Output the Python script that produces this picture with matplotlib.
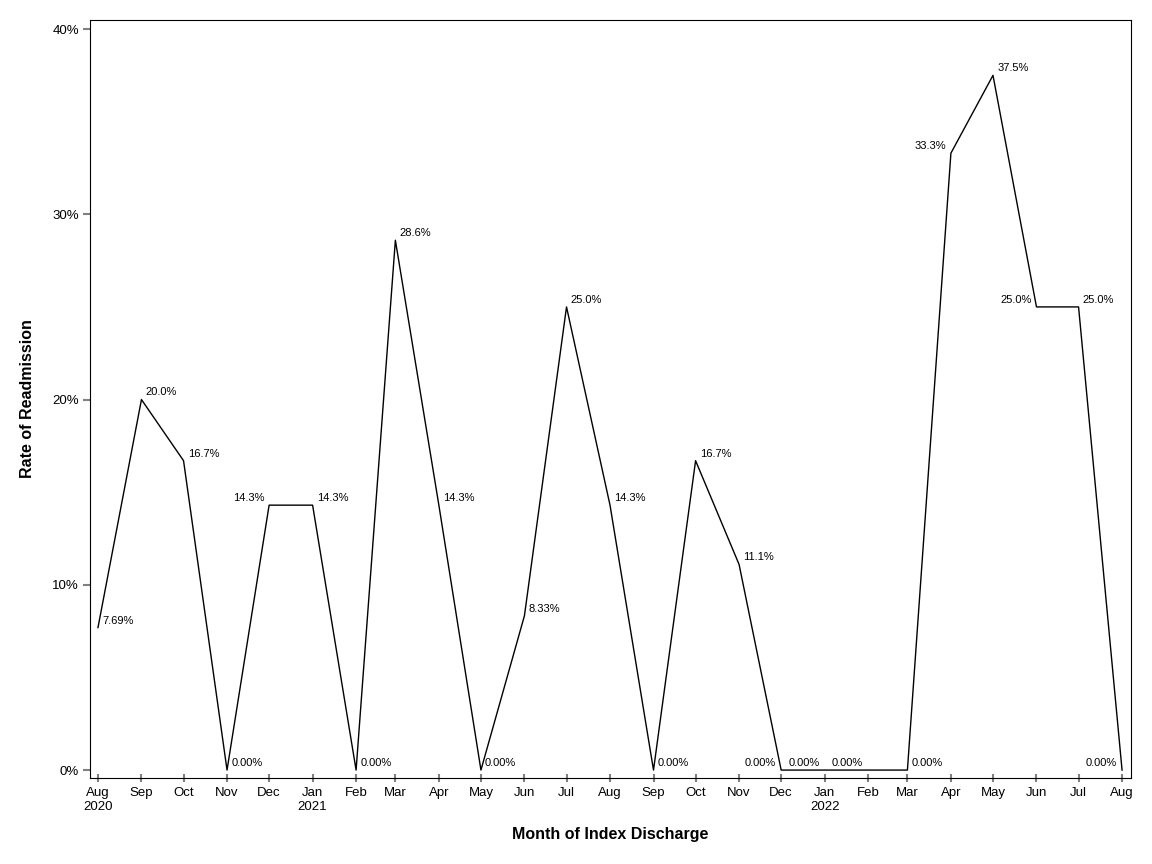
import matplotlib
matplotlib.use("Agg")
import matplotlib.pyplot as plt
import pandas as pd

plt.rcParams['font.family'] = ['Liberation Sans', 'DejaVu Sans']

# monthly readmission rates (%), Aug 2020 .. Aug 2022
months = pd.date_range("2020-08-01", "2022-08-01", freq="MS")
rates = [7.69, 20.0, 16.7, 0.0, 14.3, 14.3, 0.0, 28.6, 14.3, 0.0, 8.33, 25.0, 14.3,
         0.0, 16.7, 11.1, 0.0, 0.0, 0.0, 0.0, 33.3, 37.5, 25.0, 25.0, 0.0]
labels = ["7.69%", "20.0%", "16.7%", "0.00%", "14.3%", "14.3%", "0.00%", "28.6%", "14.3%",
          "0.00%", "8.33%", "25.0%", "14.3%", "0.00%", "16.7%", "11.1%", "0.00%", "0.00%",
          "0.00%", "0.00%", "33.3%", "37.5%", "25.0%", "25.0%", "0.00%"]
# which labels sit to the left of their point
left_side = [4, 16, 17, 18, 20, 22, 24]

fig = plt.figure(figsize=(11.52, 8.64), dpi=100)
ax = fig.add_axes([0.0781, 0.0995, 0.9037, 0.8774])

ax.plot(months, rates, color='black', lw=1)

for i in range(len(months)):
    if i in left_side:
        ax.annotate(labels[i], (months[i], rates[i]), xytext=(-3.5, 1.5), textcoords='offset points',
                    ha='right', va='bottom', fontsize=8)
    else:
        ax.annotate(labels[i], (months[i], rates[i]), xytext=(3, 1.5), textcoords='offset points',
                    ha='left', va='bottom', fontsize=8)

ax.set_xlim(months[0] - pd.Timedelta(days=5.7), months[-1] + pd.Timedelta(days=6.4))
ax.set_ylim(-0.43, 40.49)
ax.set_yticks([0, 10, 20, 30, 40])
ax.set_yticklabels(["0%", "10%", "20%", "30%", "40%"])

ticklabels = []
for d in months:
    s = d.strftime("%b")
    if d == months[0] or d.month == 1:
        s += "\n" + str(d.year)
    ticklabels.append(s)
ax.set_xticks(months)
ax.set_xticklabels(ticklabels, fontsize=9.5)
ax.tick_params(axis='y', labelsize=9.5, length=5, color='gray', width=1.5, pad=3)
ax.tick_params(axis='x', direction='inout', length=6, color='gray', width=1.5)

ax.set_xlabel("Month of Index Discharge", fontsize=11.5, fontweight='bold', labelpad=10)
ax.set_ylabel("Rate of Readmission", fontsize=11.5, fontweight='bold', labelpad=12)

fig.savefig("out.png", dpi=100)
